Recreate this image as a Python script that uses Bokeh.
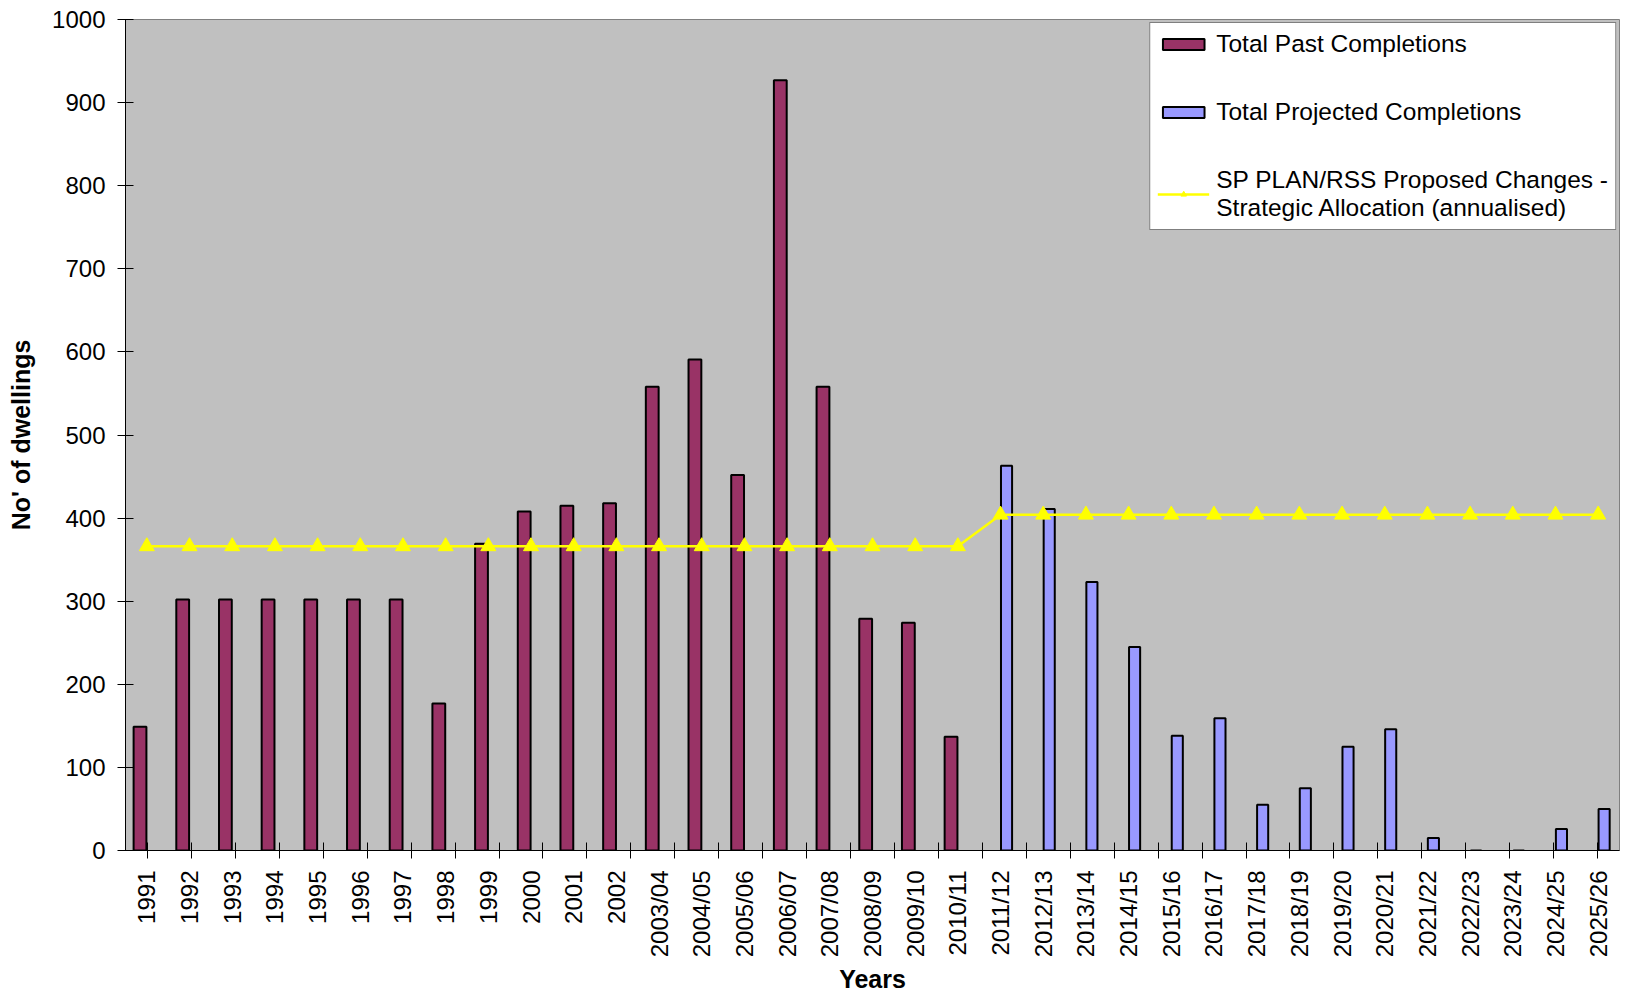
import math
from bokeh.plotting import figure
from bokeh.models import (FactorRange, Range1d, CategoricalAxis, FixedTicker,
                          Legend, LegendItem, ColumnDataSource)
from bokeh.transform import dodge
from bokeh.embed import file_html
from bokeh.resources import INLINE

# ---- data ----
past_years = ["1991", "1992", "1993", "1994", "1995", "1996", "1997", "1998", "1999", "2000",
              "2001", "2002", "2003/04", "2004/05", "2005/06", "2006/07", "2007/08", "2008/09",
              "2009/10", "2010/11"]
past_values = [149, 302, 302, 302, 302, 302, 302, 177, 369, 408,
               415, 418, 558, 591, 452, 927, 558, 279, 274, 137]

proj_years = ["2011/12", "2012/13", "2013/14", "2014/15", "2015/16", "2016/17", "2017/18",
              "2018/19", "2019/20", "2020/21", "2021/22", "2022/23", "2023/24", "2024/25", "2025/26"]
proj_values = [463, 411, 323, 245, 138, 159, 55, 75, 125, 146, 15, 0, 0, 26, 50]

categories = past_years + proj_years
allocation = [366] * len(past_years) + [404] * len(proj_years)

y_ticks = [0, 100, 200, 300, 400, 500, 600, 700, 800, 900, 1000]

label_past = "Total Past Completions"
label_proj = "Total Projected Completions"
label_line = "SP PLAN/RSS Proposed Changes -\nStrategic Allocation (annualised)"

FONT = "Liberation Sans"

p = figure(x_range=FactorRange(factors=categories, range_padding=0),
           y_range=Range1d(0, 1000),
           width=1630, height=996,
           output_backend="svg", toolbar_location=None,
           x_axis_location=None,
           min_border_left=125, min_border_right=11,
           min_border_top=19, min_border_bottom=145)

p.background_fill_color = "#C0C0C0"
p.border_fill_color = "white"
p.outline_line_color = "#808080"
p.outline_line_width = 1
p.grid.visible = False

# boundary ticks (between categories): a factor range whose factor centres sit on
# the category boundaries of the main range
boundary_names = ["b%d" % i for i in range(len(categories) + 1)]
p.extra_x_ranges = {"bounds": FactorRange(factors=boundary_names, range_padding=-1,
                                          range_padding_units="absolute")}
tick_axis = CategoricalAxis(x_range_name="bounds",
                            major_tick_in=8, major_tick_out=8,
                            major_tick_line_color="black",
                            minor_tick_line_color=None,
                            major_label_text_font_size="0px",
                            major_label_text_color=None,
                            major_label_standoff=0,
                            axis_line_color="black")
p.add_layout(tick_axis, "below")

label_axis = CategoricalAxis(major_tick_line_color=None, minor_tick_line_color=None,
                             axis_line_color=None,
                             major_label_orientation=math.pi / 2,
                             major_label_standoff=6,
                             major_label_text_font=FONT,
                             major_label_text_font_size="24px",
                             major_label_text_color="black",
                             axis_label="Years",
                             axis_label_text_font=FONT,
                             axis_label_text_font_size="25px",
                             axis_label_text_font_style="bold",
                             axis_label_text_color="black",
                             axis_label_standoff=5)
p.add_layout(label_axis, "below")

yax = p.yaxis[0]
yax.ticker = FixedTicker(ticks=y_ticks)
yax.major_tick_in = 8
yax.major_tick_out = 8
yax.major_tick_line_color = "black"
yax.minor_tick_line_color = None
yax.axis_line_color = "black"
yax.major_label_standoff = 12
yax.major_label_text_font = FONT
yax.major_label_text_font_size = "24px"
yax.major_label_text_color = "black"
yax.axis_label = "No' of dwellings"
yax.axis_label_text_font = FONT
yax.axis_label_text_font_size = "25px"
yax.axis_label_text_font_style = "bold"
yax.axis_label_text_color = "black"
yax.axis_label_standoff = 14

src_past = ColumnDataSource(dict(x=past_years, top=past_values))
src_proj = ColumnDataSource(dict(x=proj_years, top=proj_values))
src_line = ColumnDataSource(dict(x=categories, y=allocation))

past_r = p.vbar(x=dodge("x", -0.16, range=p.x_range), top="top", width=0.30, source=src_past,
                fill_color="#993366", line_color="black", line_width=2)
proj_r = p.vbar(x=dodge("x", 0.14, range=p.x_range), top="top", width=0.26, source=src_proj,
                fill_color="#9999FF", line_color="black", line_width=2)
line_r = p.line(x="x", y="y", source=src_line, line_color="#FFFF00", line_width=2.5)
sc_r = p.scatter(x="x", y="y", source=src_line, marker="triangle", size=15,
                 fill_color="#FFFF00", line_color="#FFFF00")

legend = Legend(items=[LegendItem(label=label_past, renderers=[past_r]),
                       LegendItem(label=label_proj, renderers=[proj_r]),
                       LegendItem(label=label_line, renderers=[line_r, sc_r])],
                location="top_right",
                label_text_font=FONT, label_text_font_size="24.5px", label_text_color="black",
                glyph_width=52, glyph_height=14, label_standoff=7,
                padding=7, spacing=40, margin=3,
                border_line_color="black", border_line_width=1,
                background_fill_color="white", background_fill_alpha=1.0)
p.add_layout(legend)

open("out.html", "w").write(file_html(p, INLINE))
